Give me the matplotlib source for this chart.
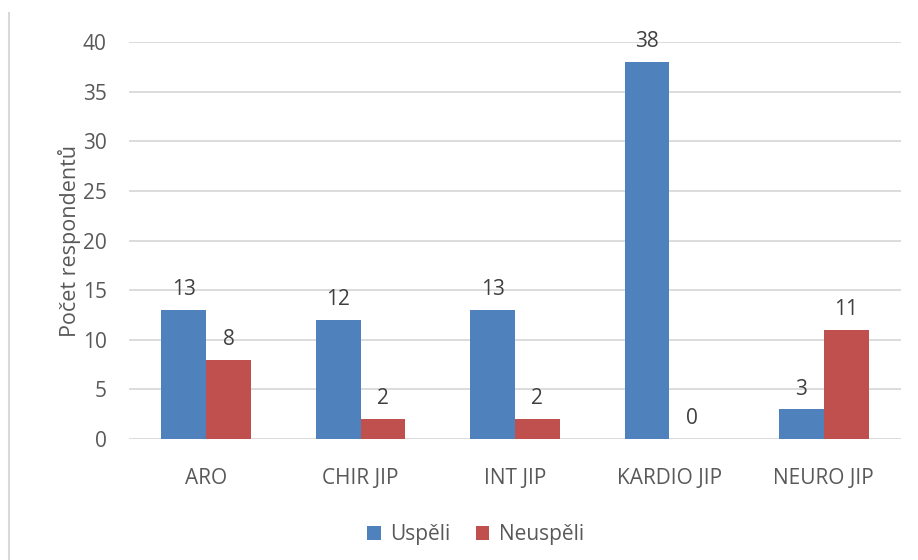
import numpy as np
import matplotlib.pyplot as plt
from matplotlib.lines import Line2D

plt.rcParams["font.family"] = ["Open Sans", "DejaVu Sans"]

categories = ["ARO", "CHIR JIP", "INT JIP", "KARDIO JIP", "NEURO JIP"]
uspeli = [13, 12, 13, 38, 3]
neuspeli = [8, 2, 2, 0, 11]

blue = "#4F81BD"
red = "#C0504D"
text_gray = "#595959"
grid_gray = "#D9D9D9"

fig = plt.figure(figsize=(9.18, 5.6), dpi=100)
ax = fig.add_axes([0.1405, 0.216, 0.841, 0.709])

x = np.arange(len(categories))
w = 0.29
b1 = ax.bar(x - w / 2, uspeli, w, color=blue, label="Uspěli")
b2 = ax.bar(x + w / 2, neuspeli, w, color=red, label="Neuspěli")

for bars, vals in ((b1, uspeli), (b2, neuspeli)):
    for rect, v in zip(bars, vals):
        ax.annotate(str(v), (rect.get_x() + rect.get_width() / 2, v),
                    xytext=(0, 7), textcoords="offset points",
                    ha="center", va="bottom", fontsize=15, color="#404040")

ax.set_xlim(-0.5, len(categories) - 0.5)
ax.set_ylim(0, 40)
ax.set_yticks(np.arange(0, 41, 5))
ax.set_xticks(x)
ax.set_xticklabels(categories)
ax.yaxis.grid(True, color=grid_gray, linewidth=1.3)
ax.set_axisbelow(True)
for s in ax.spines.values():
    s.set_visible(False)
ax.tick_params(axis="both", length=0, labelsize=15, colors=text_gray)
ax.tick_params(axis="x", pad=21)
ax.tick_params(axis="y", pad=16)
ax.set_ylabel("Počet respondentů", fontsize=15.5, color=text_gray, labelpad=1)

fig.legend(handles=[b1, b2], loc="center", bbox_to_anchor=(0.518, 0.045),
           ncol=2, frameon=False, fontsize=15, labelcolor=text_gray,
           handlelength=0.65, handleheight=0.65, handletextpad=0.45,
           columnspacing=1.2)

# thin frame edge on the left
fig.add_artist(Line2D([0.0098, 0.0098], [0.0, 0.977], color=grid_gray,
                      linewidth=1.5, transform=fig.transFigure))

fig.savefig("out.png", dpi=100)
